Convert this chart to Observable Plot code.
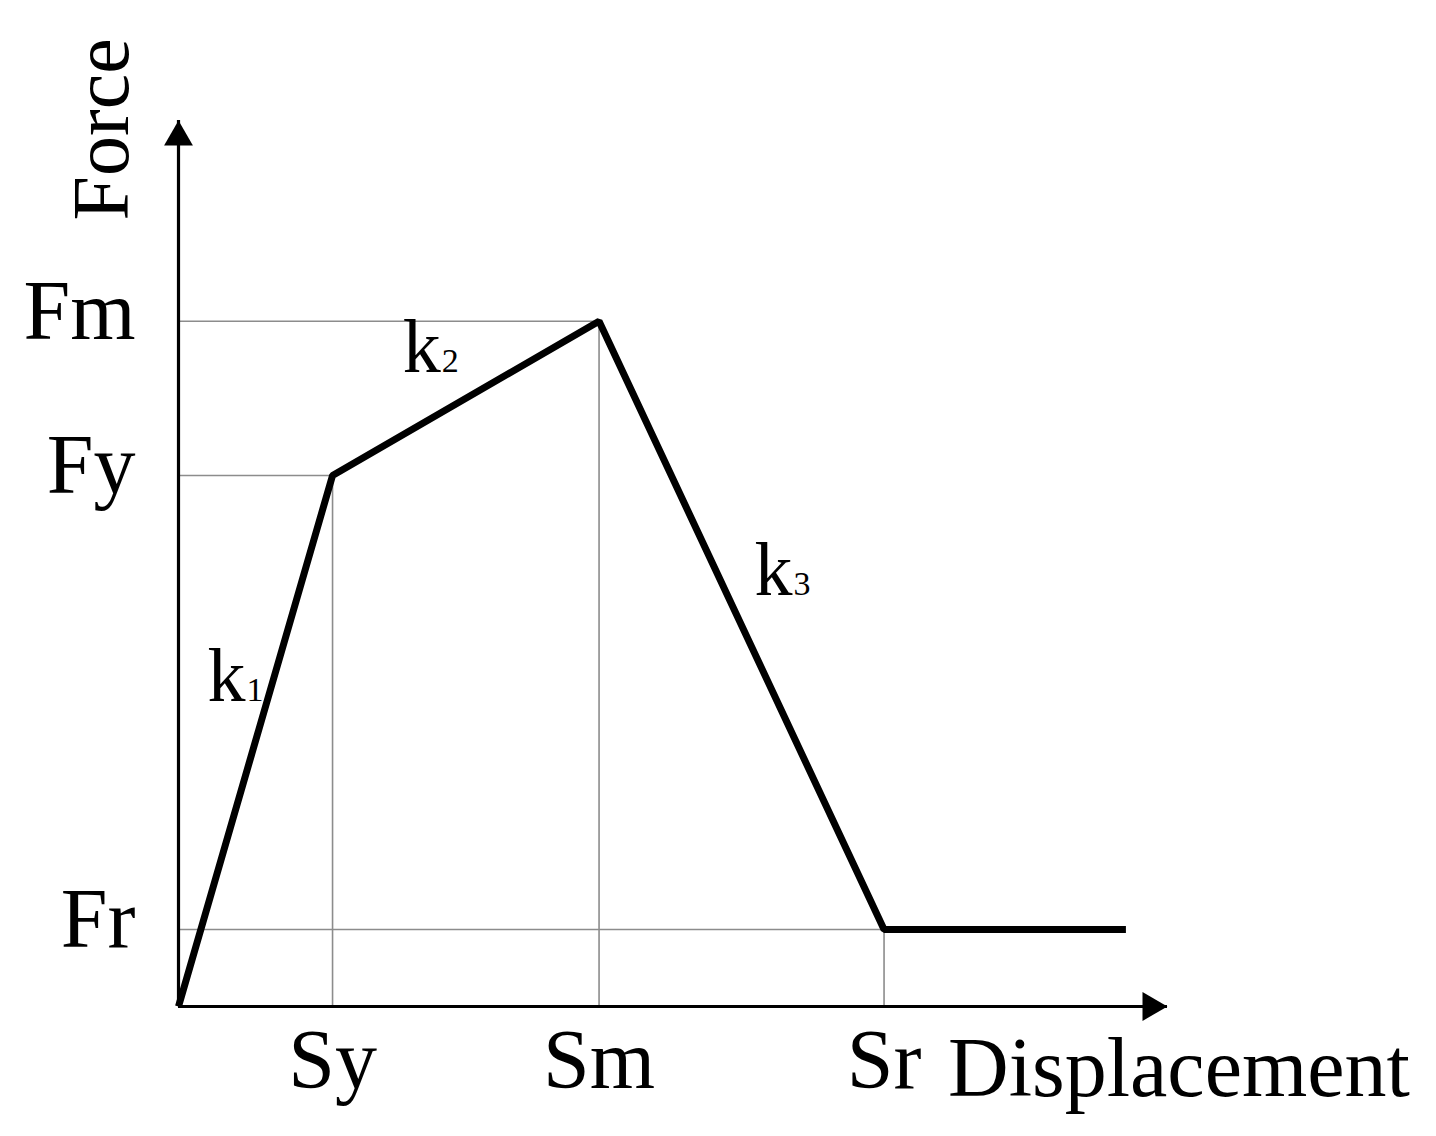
<!DOCTYPE html>
<html>
<head>
<meta charset="utf-8">
<script src="https://cdn.jsdelivr.net/npm/d3@7"></script>
<script src="https://cdn.jsdelivr.net/npm/@observablehq/plot@0.6"></script>
<style>
  html, body { margin: 0; padding: 0; background: #fff; }
  #chart svg { display: block; }
</style>
</head>
<body>
<div id="chart"></div>
<script>
// Characteristic points of the force–displacement backbone curve
const pointNames = ["O", "Y", "M", "R", "E"];
const displacement = [0, 10, 27.3, 45.8, 61.5];
const force = [0, 77.5, 100, 11.24, 11.24];

// Axis extents (arrow tips)
const xAxisEnd = 64.2;
const yAxisEnd = 129.3;

// Tick labels
const xTickValues = [10, 27.3, 45.8];
const xTickLabels = ["Sy", "Sm", "Sr"];
const yTickValues = [100, 77.5, 11.24];
const yTickLabels = ["Fm", "Fy", "Fr"];

// Stiffness labels
const kLetters = ["k", "k", "k"];
const kSubs = ["1", "2", "3"];

// Axis titles
const xTitle = "Displacement";
const yTitle = "Force";

const font = "'Liberation Serif', 'Times New Roman', serif";

const curve = displacement.map((x, i) => ({name: pointNames[i], x, y: force[i]}));
const guides = [1, 2, 3].map(i => ({x: displacement[i], y: force[i]}));
const segs = [0, 1, 2].map(i => ({
  x: (curve[i].x + curve[i + 1].x) / 2,
  y: (curve[i].y + curve[i + 1].y) / 2,
  k: kLetters[i],
  s: kSubs[i]
}));
const kOffsets = [[-10, -40], [-25, -26], [51, -30]];

const kMarks = segs.map((s, i) => [
  Plot.text([s], {x: "x", y: "y", text: "k", textAnchor: "end", lineAnchor: "bottom", fontSize: 76, fontFamily: font, fill: "black", dx: kOffsets[i][0], dy: kOffsets[i][1]}),
  Plot.text([s], {x: "x", y: "y", text: "s", textAnchor: "start", lineAnchor: "bottom", fontSize: 34, fontFamily: font, fill: "black", dx: kOffsets[i][0] + 1, dy: kOffsets[i][1]})
]).flat();

const chart = Plot.plot({
  width: 1436,
  height: 1136,
  marginLeft: 178,
  marginRight: 269,
  marginTop: 120,
  marginBottom: 130,
  style: {background: "white", fontFamily: font, color: "black"},
  x: {domain: [0, xAxisEnd]},
  y: {domain: [0, yAxisEnd]},
  marks: [
    // thin guide lines
    Plot.ruleY(guides, {y: "y", x1: 0, x2: "x", stroke: "#8c8c8c", strokeWidth: 1.6}),
    Plot.ruleX(guides, {x: "x", y1: 0, y2: "y", stroke: "#8c8c8c", strokeWidth: 1.6}),
    // axis lines
    Plot.ruleY([0], {x1: 0, x2: xAxisEnd, stroke: "black", strokeWidth: 3.2}),
    Plot.ruleX([0], {y1: 0, y2: yAxisEnd, stroke: "black", strokeWidth: 3.2}),
    // arrowheads
    Plot.dot([{x: 0, y: yAxisEnd}], {x: "x", y: "y", symbol: "triangle", r: 10.7, fill: "black", stroke: null, dy: 16.7}),
    Plot.dot([{x: xAxisEnd, y: 0}], {x: "x", y: "y", symbol: "triangle", r: 10.7, fill: "black", stroke: null, rotate: 90, dx: -16.7}),
    // backbone curve
    Plot.line(curve, {x: "x", y: "y", stroke: "black", strokeWidth: 7, strokeLinejoin: "miter", strokeLinecap: "butt"}),
    // tick labels
    Plot.axisX({ticks: xTickValues, tickFormat: (d) => xTickLabels[xTickValues.indexOf(d)], tickSize: 0, tickPadding: 22, fontSize: 84, fontFamily: font, label: null, fill: "black"}),
    Plot.axisY({ticks: yTickValues, tickFormat: (d) => yTickLabels[yTickValues.indexOf(d)], tickSize: 0, tickPadding: 43, dy: -9, fontSize: 84, fontFamily: font, label: null, fill: "black"}),
    // axis titles
    Plot.text([xTitle], {x: displacement[3], y: 0, text: d => d, dx: 64, dy: 89, textAnchor: "start", lineAnchor: "bottom", fontSize: 84, fontFamily: font, fill: "black"}),
    Plot.text([yTitle], {x: 0, y: yAxisEnd, text: d => d, dx: -51, dy: 100, rotate: -90, textAnchor: "start", lineAnchor: "bottom", fontSize: 80, fontFamily: font, fill: "black"}),
    // stiffness labels
    ...kMarks
  ]
});

document.getElementById("chart").append(chart);
</script>
</body>
</html>
